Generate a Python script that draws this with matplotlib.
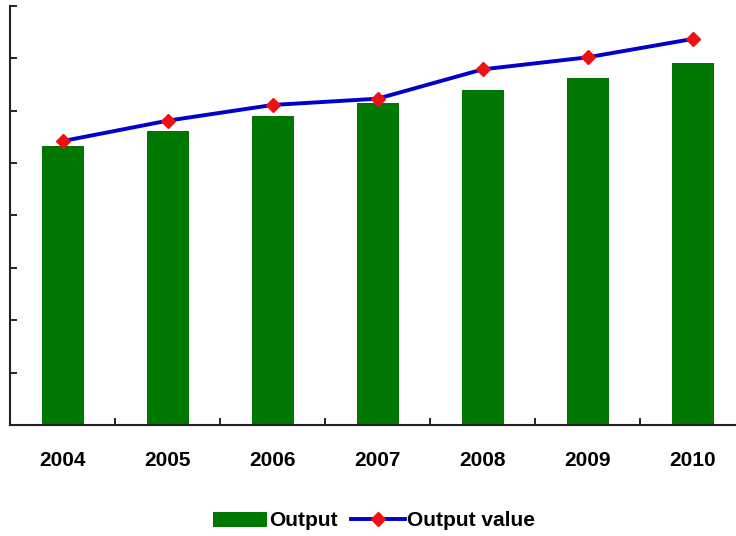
import numpy as np
import matplotlib.pyplot as plt
from matplotlib.ticker import MultipleLocator

plt.rcParams['font.family'] = ['Liberation Sans', 'DejaVu Sans']

years = ['2004', '2005', '2006', '2007', '2008', '2009', '2010']
output = [532, 562, 590, 615, 639, 662, 692]
output_value = [542, 581, 611, 623, 679, 702, 737]

fig = plt.figure(figsize=(7.36, 5.36), dpi=100)
ax = fig.add_axes([10/736, 111/536, 735/736, 419/536])

x = np.arange(len(years))
bars = ax.bar(x, output, width=0.4, color='#007700', label='Output', zorder=2)
line, = ax.plot(x, output_value, color='#0000cc', lw=2.8, marker='D', ms=7,
                mfc='#ee1111', mec='#ee1111', label='Output value', zorder=3)

ax.set_xlim(-0.5, 6.5)
ax.set_ylim(0, 800)
ax.set_xticks(x)
ax.set_xticklabels(years, fontsize=15, fontweight='bold')
ax.xaxis.set_minor_locator(MultipleLocator(1, offset=0.5))
ax.tick_params(axis='x', which='major', length=0, pad=19)
ax.tick_params(axis='x', which='minor', direction='in', length=5, width=1.2)
ax.yaxis.set_major_locator(MultipleLocator(100))
ax.tick_params(axis='y', direction='in', length=5, width=1.2, labelleft=False)

for s in ['top', 'right']:
    ax.spines[s].set_visible(False)
for s in ['left', 'bottom']:
    ax.spines[s].set_linewidth(1.5)
    ax.spines[s].set_color('#222222')

fig.legend([bars, line], ['Output', 'Output value'], loc='center',
           bbox_to_anchor=(374/736, 1 - 521/536), ncol=2,
           frameon=False, handlelength=2.6, handleheight=0.7,
           columnspacing=0.6, handletextpad=0.1,
           prop={'weight': 'bold', 'size': 15})

fig.savefig('out.png', dpi=100)
